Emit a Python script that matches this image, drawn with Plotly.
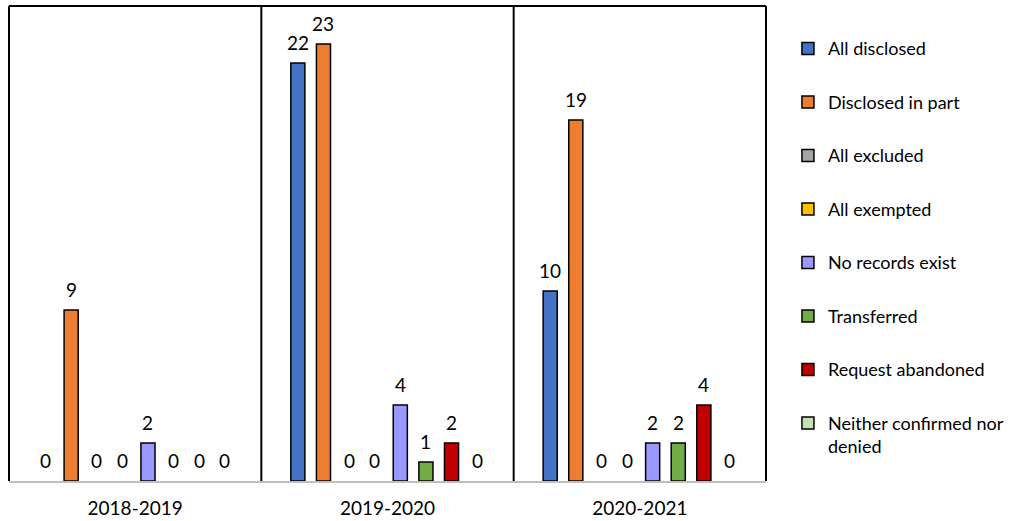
import plotly.graph_objects as go

# Requests by fiscal year and outcome
years = ["2018-2019", "2019-2020", "2020-2021"]
all_disclosed = [0, 22, 10]
disclosed_in_part = [9, 23, 19]
all_excluded = [0, 0, 0]
all_exempted = [0, 0, 0]
no_records_exist = [2, 4, 2]
transferred = [0, 1, 2]
request_abandoned = [0, 2, 4]
neither_confirmed_nor_denied = [0, 0, 0]

series = [
    ("All disclosed", all_disclosed, "#4472C4"),
    ("Disclosed in part", disclosed_in_part, "#ED7D31"),
    ("All excluded", all_excluded, "#A5A5A5"),
    ("All exempted", all_exempted, "#FFC000"),
    ("No records exist", no_records_exist, "#9999FF"),
    ("Transferred", transferred, "#70AD47"),
    ("Request abandoned", request_abandoned, "#C00000"),
    ("Neither confirmed nor<br>denied", neither_confirmed_nor_denied, "#C5E0B4"),
]

FONT = "Lato, 'Open Sans', sans-serif"
FS = 19
BARGAP = 0.188
BARGROUPGAP = 0.45

fig = go.Figure()
for i, (name, vals, color) in enumerate(series):
    # empty bars are left out so no outline stub sits on the baseline
    heights = [v if v else None for v in vals]
    fig.add_trace(go.Bar(
        x=years, y=heights, name=name, legendgroup=str(i),
        marker=dict(color=color, line=dict(color="#000000", width=1.5)),
    ))

# value labels above each bar, placed at the grouped-bar centres
n = len(series)
slot = (1 - BARGAP) / n
annotations = []
for i, (name, vals, color) in enumerate(series):
    for g, v in enumerate(vals):
        xc = g - (1 - BARGAP) / 2 + (i + 0.5) * slot
        annotations.append(dict(
            x=xc, y=v, xref="x", yref="y", text=str(v), showarrow=False,
            yanchor="middle", yshift=21,
            font=dict(family=FONT, size=FS, color="#000000"),
        ))

# frame: black top/left/right edges and dividers between years
shapes = [
    dict(type="line", xref="paper", yref="paper", x0=0, x1=1, y0=1, y1=1,
         line=dict(color="#000000", width=2)),
    dict(type="line", xref="paper", yref="paper", x0=0, x1=0, y0=0, y1=1,
         line=dict(color="#000000", width=2)),
    dict(type="line", xref="paper", yref="paper", x0=1, x1=1, y0=0, y1=1,
         line=dict(color="#000000", width=2)),
]
for b in range(1, len(years)):
    shapes.append(dict(type="line", xref="x", yref="paper", x0=b - 0.5, x1=b - 0.5,
                       y0=0, y1=1, line=dict(color="#000000", width=2)))

fig.update_layout(
    width=1009, height=521,
    margin=dict(l=9, r=243, t=6, b=40, autoexpand=False),
    paper_bgcolor="white", plot_bgcolor="white",
    barmode="group", bargap=BARGAP, bargroupgap=BARGROUPGAP,
    font=dict(family=FONT, size=FS, color="#000000"),
    xaxis=dict(
        type="category", range=[-0.5, 2.5], showgrid=False, zeroline=False,
        showline=True, linecolor="#BFBFBF", linewidth=1.5, ticks="",
        tickfont=dict(family=FONT, size=FS, color="#000000"),
        ticklabelstandoff=9, automargin=False,
    ),
    yaxis=dict(range=[0, 25], visible=False, showgrid=False, zeroline=False),
    legend=dict(
        x=1.029, xanchor="left", y=0.949, yanchor="top",
        tracegroupgap=27.1, valign="top",
        font=dict(family=FONT, size=18, color="#000000"),
        bgcolor="rgba(0,0,0,0)",
    ),
    annotations=annotations,
    shapes=shapes,
    showlegend=True,
)

fig.write_html("out.html")
